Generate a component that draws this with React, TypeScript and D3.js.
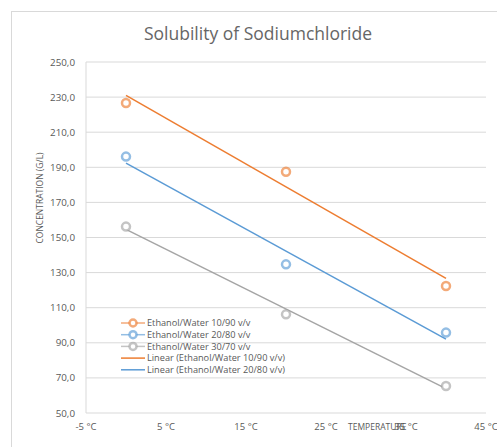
import React from "react";
import * as d3 from "d3";

const temperatures = [0, 20, 40];
const series1 = [226.6, 187.5, 122.4];
const series2 = [196.1, 134.7, 95.8];
const series3 = [156.2, 106.2, 65.4];
const seriesColors = ["#ED7D31", "#5B9BD5", "#A5A5A5"];
const xTicks = [-5, 5, 15, 25, 35, 45];
const yTicks = [50, 70, 90, 110, 130, 150, 170, 190, 210, 230, 250];
const legendNames = [
  "Ethanol/Water 10/90 v/v",
  "Ethanol/Water 20/80 v/v",
  "Ethanol/Water 30/70 v/v",
  "Linear (Ethanol/Water 10/90 v/v)",
  "Linear (Ethanol/Water 20/80 v/v)",
];

function fit(xs: number[], ys: number[]) {
  const mx = d3.mean(xs)!;
  const my = d3.mean(ys)!;
  let num = 0, den = 0;
  xs.forEach((x, i) => { num += (x - mx) * (ys[i] - my); den += (x - mx) ** 2; });
  const b = num / den;
  return (x: number) => my + b * (x - mx);
}

export default function App() {
  const W = 497, H = 447;
  const left = 86, right = 486, top = 62, bottom = 413;
  const x = d3.scaleLinear().domain([-5, 45]).range([left, right]);
  const y = d3.scaleLinear().domain([50, 250]).range([bottom, top]);
  const all = [series1, series2, series3];
  const font = "'Open Sans', sans-serif";
  const textColor = "#595959";
  const line = d3.line<[number, number]>().x(d => x(d[0])).y(d => y(d[1]));

  return (
    <svg width={W} height={H} style={{ position: "absolute", left: 0, top: 0, background: "#fff" }}>
      <rect x={11.5} y={11.5} width={520} height={460} fill="#fff" stroke="#d9d9d9" />
      <text x={258} y={40} textAnchor="middle" fontFamily={font} fontSize={17.5} fill="#666">
        Solubility of Sodiumchloride
      </text>
      {yTicks.map(t => (
        <g key={t}>
          <line x1={left} x2={right} y1={y(t)} y2={y(t)} stroke="#d9d9d9" strokeWidth={1} />
          <text x={75} y={y(t) + 3.5} textAnchor="end" fontFamily={font} fontSize={9.8} fill={textColor}>
            {t.toFixed(1).replace(".", ",")}
          </text>
        </g>
      ))}
      <line x1={left} x2={left} y1={top} y2={bottom} stroke="#d9d9d9" />
      {xTicks.map(t => (
        <text key={t} x={x(t)} y={430} textAnchor="middle" fontFamily={font} fontSize={9.5} fill={textColor}>
          {t} °C
        </text>
      ))}
      <text x={348} y={430} fontFamily={font} fontSize={8.5} fill={textColor}>TEMPERATURE</text>
      <text transform={`translate(43,198) rotate(-90)`} textAnchor="middle" fontFamily={font} fontSize={8.5} fill={textColor}>
        CONCENTRATION  (G/L)
      </text>
      {all.map((s, i) => {
        const f = fit(temperatures, s);
        const x0 = temperatures[0], x1 = temperatures[temperatures.length - 1];
        return (
          <path key={"t" + i} d={line([[x0, f(x0)], [x1, f(x1)]])!} stroke={seriesColors[i]} strokeWidth={1.5} fill="none" />
        );
      })}
      {all.map((s, i) =>
        s.map((v, j) => (
          <circle key={i + "-" + j} cx={x(temperatures[j])} cy={y(v)} r={4} fill="#fff" stroke={seriesColors[i]} strokeOpacity={0.65} strokeWidth={2.5} />
        ))
      )}
      {legendNames.map((n, i) => {
        const ly = 323 + i * 11.7;
        const c = seriesColors[i % 3];
        return (
          <g key={n}>
            <line x1={121} x2={145} y1={ly} y2={ly} stroke={c} strokeWidth={1.5} strokeOpacity={i < 3 ? 0.65 : 1} />
            {i < 3 && <circle cx={133} cy={ly} r={3.5} fill="#fff" stroke={c} strokeOpacity={0.65} strokeWidth={2.5} />}
            <text x={147} y={ly + 3.3} fontFamily={font} fontSize={9.2} fill={textColor}>{n}</text>
          </g>
        );
      })}
    </svg>
  );
}
